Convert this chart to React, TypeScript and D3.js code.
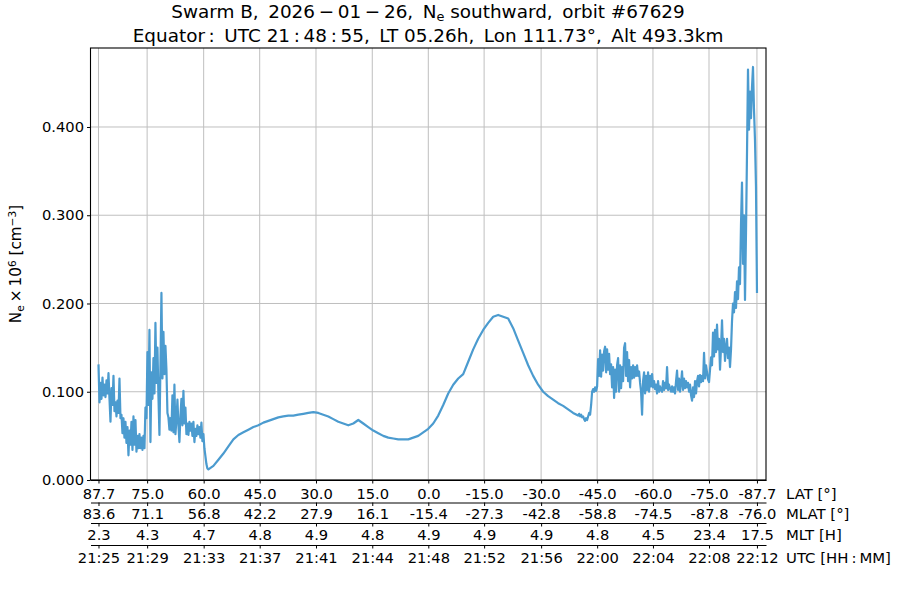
import { useEffect, useRef } from "react"
import * as d3 from "d3"

// seconds from the first tick of the pass
const tickSeconds = [0, 204, 441, 676, 912, 1148, 1383, 1617, 1856, 2091, 2325, 2560, 2761]
const latLabels = ["87.7", "75.0", "60.0", "45.0", "30.0", "15.0", "0.0", "-15.0", "-30.0", "-45.0", "-60.0", "-75.0", "-87.7"]
const mlatLabels = ["83.6", "71.1", "56.8", "42.2", "27.9", "16.1", "-15.4", "-27.3", "-42.8", "-58.8", "-74.5", "-87.8", "-76.0"]
const mltLabels = ["2.3", "4.3", "4.7", "4.8", "4.9", "4.8", "4.9", "4.9", "4.9", "4.8", "4.5", "23.4", "17.5"]
const utcLabels = ["21:25", "21:29", "21:33", "21:37", "21:41", "21:44", "21:48", "21:52", "21:56", "22:00", "22:04", "22:08", "22:12"]
const neTicks = [0, 0.1, 0.2, 0.3, 0.4]

// Ne in 1e6 cm-3
const northCadence = 4.19
const northValues = [
  0.131, 0.088, 0.11, 0.092, 0.116, 0.096, 0.108, 0.094, 0.113, 0.098, 0.121, 0.092, 0.066, 0.104, 0.085, 0.118,
  0.078, 0.088, 0.072, 0.09, 0.076, 0.115, 0.07, 0.074, 0.053, 0.07, 0.048, 0.066, 0.042, 0.06, 0.028, 0.056,
  0.04, 0.066, 0.034, 0.072, 0.04, 0.068, 0.032, 0.05, 0.036, 0.052, 0.036, 0.048, 0.034, 0.05, 0.036, 0.082,
  0.07, 0.145, 0.085, 0.17, 0.043, 0.122, 0.092, 0.138, 0.098, 0.178, 0.11, 0.15, 0.095, 0.051, 0.13, 0.212,
  0.115, 0.168, 0.12, 0.152, 0.125, 0.076, 0.071, 0.057, 0.07, 0.056, 0.096, 0.054, 0.108, 0.052, 0.068, 0.091,
  0.062, 0.043, 0.072, 0.092, 0.062, 0.101, 0.064, 0.082, 0.052, 0.064, 0.051, 0.066, 0.056, 0.064, 0.05, 0.066,
  0.043, 0.058, 0.05, 0.062, 0.052, 0.06, 0.048, 0.065, 0.044, 0.052, 0.036, 0.027, 0.018, 0.013, 0.012,
]

const midCadence = 20.95
const midValues = [
  0.012, 0.016, 0.023, 0.03, 0.038, 0.046, 0.051, 0.054, 0.057, 0.06, 0.062, 0.065, 0.067, 0.069, 0.071, 0.072,
  0.073, 0.073, 0.074, 0.075, 0.076, 0.077, 0.076, 0.074, 0.072, 0.069, 0.066, 0.064, 0.062, 0.064, 0.068, 0.064,
  0.06, 0.056, 0.053, 0.05, 0.048, 0.047, 0.046, 0.046, 0.046, 0.048, 0.05, 0.054, 0.058, 0.064, 0.073, 0.085,
  0.098, 0.108, 0.115, 0.12, 0.134, 0.148, 0.16, 0.17, 0.178, 0.185, 0.187, 0.185, 0.183, 0.172, 0.158, 0.144,
  0.13, 0.118, 0.108, 0.1, 0.095, 0.091, 0.087, 0.084, 0.08, 0.076, 0.073,
]

const southCadence = 4.19
const southValues = [
  0.073, 0.075, 0.072, 0.074, 0.071, 0.072, 0.069, 0.067, 0.07, 0.068, 0.072, 0.076, 0.074, 0.085, 0.1, 0.103,
  0.1, 0.105, 0.101, 0.106, 0.137, 0.118, 0.147, 0.117, 0.142, 0.124, 0.146, 0.151, 0.122, 0.148, 0.125, 0.143,
  0.12, 0.131, 0.105, 0.128, 0.093, 0.125, 0.1, 0.13, 0.138, 0.1, 0.13, 0.104, 0.128, 0.112, 0.15, 0.155,
  0.118, 0.145, 0.112, 0.136, 0.105, 0.128, 0.115, 0.13, 0.116, 0.128, 0.118, 0.13, 0.118, 0.123, 0.11, 0.1,
  0.074, 0.112, 0.122, 0.098, 0.118, 0.102, 0.122, 0.1, 0.118, 0.106, 0.12, 0.105, 0.112, 0.103, 0.108, 0.098,
  0.112, 0.1, 0.106, 0.102, 0.1, 0.112, 0.102, 0.11, 0.104, 0.128, 0.102, 0.108, 0.104, 0.1, 0.106, 0.1,
  0.105, 0.098, 0.112, 0.124, 0.102, 0.115, 0.1, 0.11, 0.123, 0.102, 0.115, 0.104, 0.112, 0.105, 0.11, 0.1,
  0.108, 0.096, 0.09, 0.105, 0.094, 0.112, 0.098, 0.112, 0.118, 0.106, 0.119, 0.111, 0.118, 0.112, 0.144, 0.115,
  0.13, 0.122, 0.114, 0.111, 0.125, 0.139, 0.13, 0.167, 0.14, 0.17, 0.145, 0.176, 0.148, 0.16, 0.125, 0.15,
  0.181, 0.145, 0.16, 0.135, 0.15, 0.16, 0.138, 0.15, 0.128, 0.148, 0.18, 0.2, 0.19, 0.213, 0.195, 0.225,
  0.205, 0.241, 0.222, 0.29, 0.337, 0.245, 0.3, 0.204, 0.28, 0.37, 0.465, 0.397, 0.44, 0.41, 0.445, 0.468,
  0.42, 0.385, 0.332, 0.212,
]

const font = "'DejaVu Sans'"
const width = 900
const height = 600
const thin = "\u2009"

export default function App() {
  const svgRef = useRef<SVGSVGElement>(null)

  useEffect(() => {
    if (!svgRef.current) return

    const svg = d3.select(svgRef.current)
    svg.selectAll("*").remove()
    svg.style("font-family", font)

    const left = 90.5
    const right = 766
    const top = 48
    const bottom = 480

    const x = d3.scaleLinear().domain([-33.5, 2799]).range([left, right])
    const y = d3.scaleLinear().domain([0, 0.4895]).range([bottom, top])

    // grid
    svg.append("g").selectAll("line").data(tickSeconds).enter().append("line")
      .attr("x1", (d) => x(d)).attr("x2", (d) => x(d))
      .attr("y1", top).attr("y2", bottom)
      .style("stroke", "#bfbfbf").style("stroke-width", 1)
    svg.append("g").selectAll("line").data(neTicks).enter().append("line")
      .attr("x1", left).attr("x2", right)
      .attr("y1", (d) => y(d)).attr("y2", (d) => y(d))
      .style("stroke", "#bfbfbf").style("stroke-width", 1)

    // the three stretches of the pass, one after the other
    const north = northValues.map((v, i) => [i * northCadence, v])
    const midStart = north[north.length - 1][0]
    const mid = midValues.map((v, i) => [midStart + i * midCadence, v])
    const southStart = mid[mid.length - 1][0]
    const south = southValues.map((v, i) => [southStart + i * southCadence, v])
    const line = d3.line<number[]>().x((d) => x(d[0])).y((d) => y(d[1]))

    svg.append("path")
      .attr("d", line([...north, ...mid.slice(1), ...south.slice(1)]))
      .style("fill", "none")
      .style("stroke", "#4b9bcf")
      .style("stroke-width", 2.2)
      .style("stroke-linejoin", "round")

    // frame
    svg.append("rect")
      .attr("x", left).attr("y", top)
      .attr("width", right - left).attr("height", bottom - top)
      .style("fill", "none").style("stroke", "#000").style("stroke-width", 1.1)

    const yAxis = d3.axisLeft(y).tickValues(neTicks).tickFormat((d) => d3.format(".3f")(d as number)).tickSize(3.5).tickSizeOuter(0)
    const yg = svg.append("g").attr("transform", `translate(${left},0)`).call(yAxis)
    yg.select(".domain").remove()
    yg.selectAll("text").style("font-size", "14.7px").style("font-family", font).style("fill", "#000")
    yg.selectAll("line").style("stroke", "#000")

    // stacked bottom axes
    const rows = [
      { labels: latLabels, name: "LAT [°]", axisY: bottom, textY: 498.5 },
      { labels: mlatLabels, name: "MLAT [°]", axisY: 502.5, textY: 518.5 },
      { labels: mltLabels, name: "MLT [H]", axisY: 523, textY: 540 },
      { labels: utcLabels, name: `UTC [HH${thin}:${thin}MM]`, axisY: 545, textY: 562.5 },
    ]
    rows.forEach((row) => {
      const axis = d3.axisBottom(x)
        .tickValues(tickSeconds)
        .tickFormat((_, i) => row.labels[i])
        .tickSize(3.5)
        .tickSizeOuter(0)
      const g = svg.append("g").attr("transform", `translate(0,${row.axisY})`).call(axis)
      g.selectAll("line").style("stroke", "#000")
      g.select(".domain").style("stroke", "#000")
      g.selectAll("text")
        .attr("y", row.textY - row.axisY)
        .attr("dy", 0)
        .style("font-size", "14.7px")
        .style("font-family", font)
        .style("fill", "#000")
      svg.append("text")
        .attr("x", 786).attr("y", row.textY)
        .text(row.name)
        .style("font-size", "14.9px")
    })

    // titles
    const title1 = svg.append("text").attr("x", 428).attr("y", 18)
      .attr("text-anchor", "middle").style("font-size", "18.4px").style("white-space", "pre")
    title1.append("tspan").text(`Swarm B, ${thin}2026${thin}−${thin}01${thin}−${thin}26, ${thin}N`)
    title1.append("tspan").attr("dy", 3).style("font-size", "12.9px").text("e")
    title1.append("tspan").attr("dy", -3).text(` southward, ${thin}orbit #67629`)

    svg.append("text").attr("x", 428).attr("y", 42)
      .attr("text-anchor", "middle").style("font-size", "18.4px").style("white-space", "pre")
      .text(`Equator${thin}: ${thin}UTC 21${thin}:${thin}48${thin}:${thin}55, ${thin}LT 05.26h, ${thin}Lon 111.73°, ${thin}Alt 493.3km`)

    // y label
    const yLabel = svg.append("text")
      .attr("transform", "translate(21,264) rotate(-90)")
      .attr("text-anchor", "middle").style("font-size", "15.2px").style("white-space", "pre")
    yLabel.append("tspan").text("N")
    yLabel.append("tspan").attr("dy", 3).style("font-size", "10.6px").text("e")
    yLabel.append("tspan").attr("dy", -3).text(`${thin}×${thin}10`)
    yLabel.append("tspan").attr("dy", -5).style("font-size", "10.6px").text("6")
    yLabel.append("tspan").attr("dy", 5).text(" [cm")
    yLabel.append("tspan").attr("dy", -5).style("font-size", "10.6px").text("−3")
    yLabel.append("tspan").attr("dy", 5).text("]")
  }, [])

  return <svg ref={svgRef} width={width} height={height} style={{ position: "absolute", left: 0, top: 0, background: "#fff" }} />
}
